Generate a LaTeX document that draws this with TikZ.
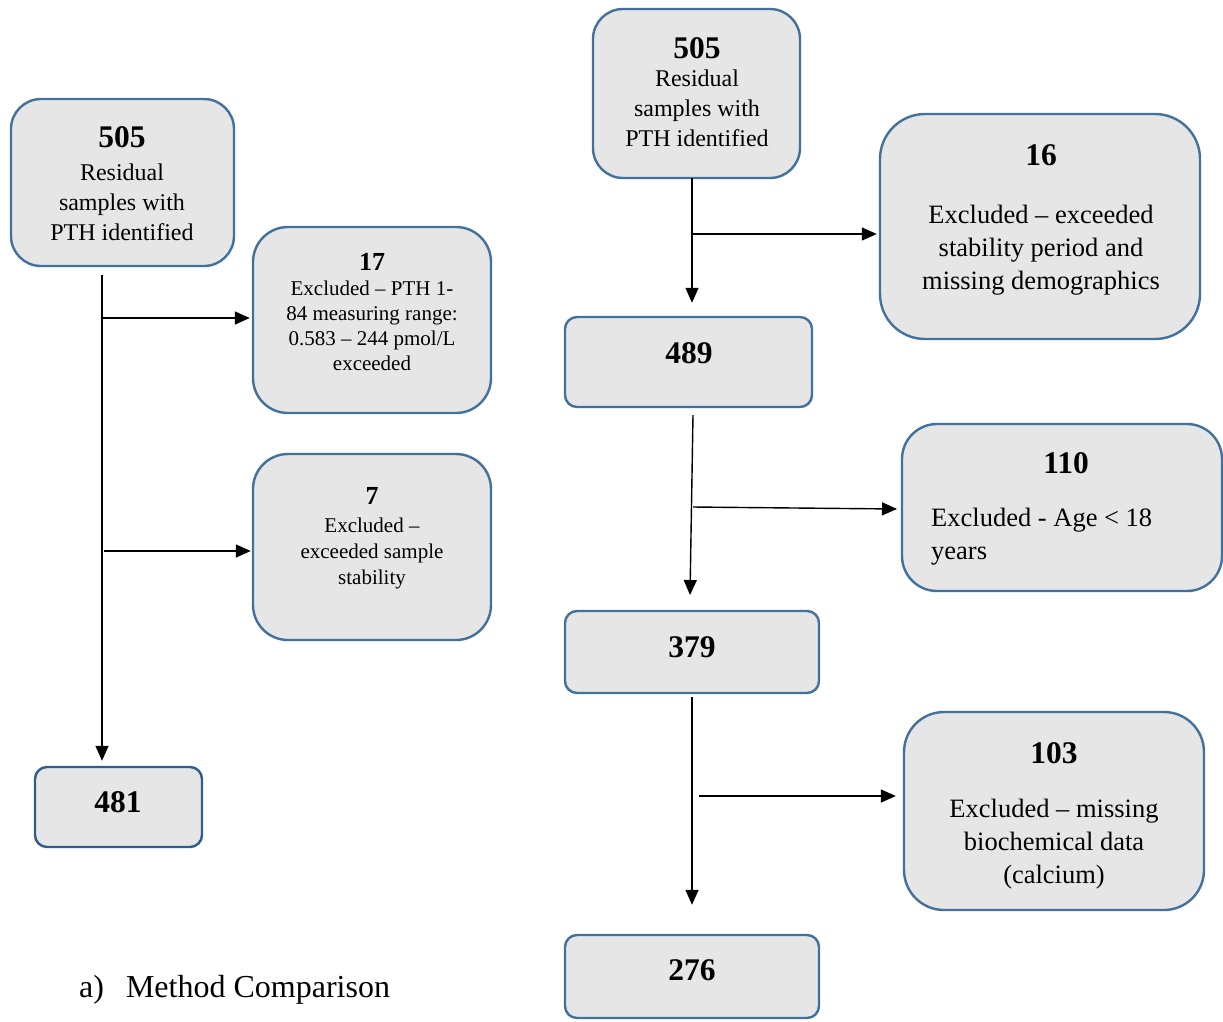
\documentclass[tikz,border=0pt]{standalone}
\usepackage{fontspec}
\setmainfont{Liberation Serif}
\usetikzlibrary{arrows.meta,calc}
\definecolor{boxfill}{HTML}{E7E6E6}
\definecolor{bord}{HTML}{41719C}
\definecolor{borddark}{HTML}{2F5D8C}
\tikzset{
  box/.style={draw=bord, fill=boxfill, line width=2.4pt, inner sep=0pt, rectangle},
  arr/.style={line width=1.4pt, -{Triangle[length=15pt,width=13pt]}},
  txt/.style={inner sep=0pt, align=center, anchor=base},
  numbig/.style={font=\bfseries\fontsize{31.5}{36}\selectfont},
  numsmall/.style={font=\bfseries\fontsize{26}{30}\selectfont},
  bodyA/.style={font=\fontsize{24}{29.7}\selectfont},
  bodyS/.style={font=\fontsize{21}{24.7}\selectfont},
  bodyC/.style={font=\fontsize{21}{26}\selectfont},
  bodyR/.style={font=\fontsize{26.5}{33}\selectfont},
}
\begin{document}
\begin{tikzpicture}[x=1pt,y=-1pt]
\useasboundingbox (0,0) rectangle (1223,1021);
% ---------- left column ----------
\node[box, minimum width=223pt, minimum height=167pt, rounded corners=30pt] (A) at (122.5,182.5) {};
\node[box, minimum width=238pt, minimum height=186pt, rounded corners=35pt] (B) at (372,320) {};
\node[box, minimum width=238pt, minimum height=186pt, rounded corners=35pt] (C) at (372,547) {};
\node[box, draw=borddark, minimum width=167pt, minimum height=80pt, rounded corners=12pt] (D) at (118.5,807) {};

\node[txt, numbig] (At) at (122,147) {505};
\node[txt, bodyA] (Ab) at (122,240) {Residual\\samples with\\PTH identified};
\node[txt, numsmall] (Bt) at (372,270) {17};
\node[txt, bodyS] (Bb) at (372,370) {Excluded – PTH 1-\\84 measuring range:\\0.583 – 244 pmol/L\\exceeded};
\node[txt, numsmall] (Ct) at (372,504) {7};
\node[txt, bodyC] (Cb) at (372,584) {Excluded –\\exceeded sample\\stability};
\node[txt, numbig] (Dt) at (118,812) {481};

\node[anchor=base west, inner sep=0pt, font=\fontsize{32}{36}\selectfont] (cap) at (79,997) {a)\hspace{22pt}Method Comparison};

\coordinate (a0) at (102,275);
\coordinate (a1) at (102,318);
\coordinate (a2) at (104,551);
\draw[arr, shorten >=5pt] (a0) -- (a0 |- D.north);
\draw[arr, shorten >=2pt] (a1) -- (a1 -| B.west);
\draw[arr, shorten >=1pt] (a2) -- (a2 -| C.west);

% ---------- right column ----------
\node[box, minimum width=207pt, minimum height=169pt, rounded corners=30pt] (E) at (696.5,93.5) {};
\node[box, minimum width=320pt, minimum height=225pt, rounded corners=45pt] (F) at (1040,226.5) {};
\node[box, minimum width=247pt, minimum height=90pt, rounded corners=12pt] (G) at (688.5,362) {};
\node[box, minimum width=320pt, minimum height=167pt, rounded corners=35pt] (H) at (1062,507.5) {};
\node[box, minimum width=254pt, minimum height=82pt, rounded corners=12pt] (I) at (692,652) {};
\node[box, minimum width=300pt, minimum height=198pt, rounded corners=40pt] (J) at (1054,811) {};
\node[box, minimum width=254pt, minimum height=83pt, rounded corners=12pt] (K) at (692,976.5) {};

\node[txt, numbig] (Et) at (697,58) {505};
\node[txt, bodyA] (Eb) at (697,146) {Residual\\samples with\\PTH identified};
\node[txt, numbig] (Ft) at (1041,165) {16};
\node[txt, bodyR] (Fb) at (1041,289) {Excluded – exceeded\\stability period and\\missing demographics};
\node[txt, numbig] (Gt) at (689,363) {489};
\node[txt, numbig] (Ht) at (1066,473) {110};
\node[inner sep=0pt, align=left, anchor=base west, bodyR] (Hb) at (931,559) {Excluded - Age < 18\\years};
\node[txt, numbig] (It) at (692,657) {379};
\node[txt, numbig] (Jt) at (1054,763) {103};
\node[txt, bodyR] (Jb) at (1054,883) {Excluded – missing\\biochemical data\\(calcium)};
\node[txt, numbig] (Kt) at (692,980) {276};

\coordinate (e0) at (692,178);
\coordinate (e1) at (692,234);
\coordinate (g0) at (693,415);
\coordinate (g1) at (693,507);
\coordinate (g2) at (690,595);
\coordinate (h0) at (897,509);
\coordinate (i0) at (692,697);
\coordinate (i1) at (699,796);
\draw[arr, shorten >=13pt] (e0) -- (e0 |- G.north);
\draw[arr, shorten >=2pt] (e1) -- (e1 -| F.west);
\draw[arr] (g0) -- (g2);
\draw[arr] (g1) -- (h0);
\draw[arr, shorten >=29pt] (i0) -- (i0 |- K.north);
\draw[arr, shorten >=7pt] (i1) -- (i1 -| J.west);
\end{tikzpicture}
\end{document}
